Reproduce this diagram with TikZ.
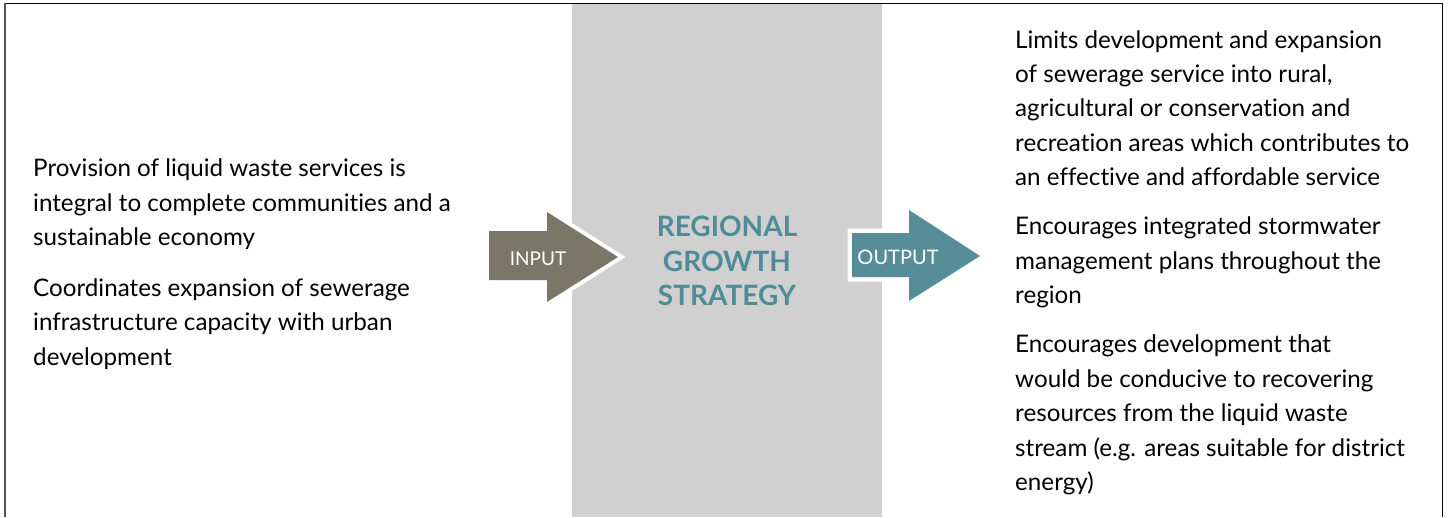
\documentclass[tikz,border=0pt]{standalone}
\usepackage{fontspec}
\setmainfont{Lato}[Ligatures=NoCommon]
\definecolor{bandgrey}{HTML}{D0D0D0}
\definecolor{inarrow}{HTML}{7A7769}
\definecolor{outarrow}{HTML}{568D99}
\definecolor{titleteal}{HTML}{4E8C98}
\definecolor{framegrey}{HTML}{555555}
\begin{document}
\begin{tikzpicture}[x=1pt,y=-1pt,
  bodytext/.style={anchor=base west,align=left,inner sep=0pt,text=black,
    font=\fontsize{24.2}{34.4}\selectfont},
  titletext/.style={anchor=base,align=center,inner sep=0pt,text=titleteal,
    font=\fontsize{28}{34.5}\selectfont\bfseries},
  arrowlabel/.style={anchor=base,inner sep=0pt,text=white,
    font=\fontsize{19}{24}\selectfont},
  halo/.style={draw=white,line width=8pt,line join=miter},
]
\useasboundingbox (0,0) rectangle (1448,517);
\fill[white] (0,0) rectangle (1448,517);
% grey band
\fill[bandgrey] (572,4) rectangle (882,517);
% frame
\draw[black,line width=1.6pt] (4,3.5) -- (1443,3.5);
\draw[framegrey,line width=2pt] (4.5,3) -- (4.5,517);
\draw[black,line width=1.6pt] (1442.5,3) -- (1442.5,517);
% input arrow
\path[halo] (489,231) -- (547,231) -- (547,212) -- (618,257) -- (547,302) -- (547,280) -- (489,280) -- cycle;
\fill[inarrow] (489,231) -- (547,231) -- (547,212) -- (618,257) -- (547,302) -- (547,280) -- (489,280) -- cycle;
% output arrow
\path[halo,line width=9pt] (852,233) -- (909,233) -- (909,210) -- (980,256) -- (909,301) -- (909,277) -- (852,277) -- cycle;
\fill[outarrow] (852,233) -- (909,233) -- (909,210) -- (980,256) -- (909,301) -- (909,277) -- (852,277) -- cycle;
\node[arrowlabel] (inlabel) at (538,265) {INPUT};
\node[arrowlabel,font=\fontsize{20}{24}\selectfont] (outlabel) at (898,264) {OUTPUT};
% title (anchor = baseline of last line)
\node[titletext] (title) at (727,305.5) {REGIONAL\\GROWTH\\STRATEGY};
% left text (anchor = baseline of last line)
\node[bodytext] (l1) at (33,245.5) {Provision of liquid waste services is\\integral to complete communities and a\\sustainable economy};
\node[bodytext] (l2) at (33,365.3) {Coordinates expansion of sewerage\\infrastructure capacity with urban\\development};
% right text
\node[bodytext] (r1) at (1015,185.6) {Limits development and expansion\\of sewerage service into rural,\\agricultural or conservation and\\recreation areas which contributes to\\an effective and affordable service};
\node[bodytext] (r2) at (1015,303.6) {Encourages integrated stormwater\\management plans throughout the\\region};
\node[bodytext] (r3) at (1015,490.5) {Encourages development that\\would be conducive to recovering\\resources from the liquid waste\\stream (e.g. areas suitable for district\\energy)};
\end{tikzpicture}
\end{document}
